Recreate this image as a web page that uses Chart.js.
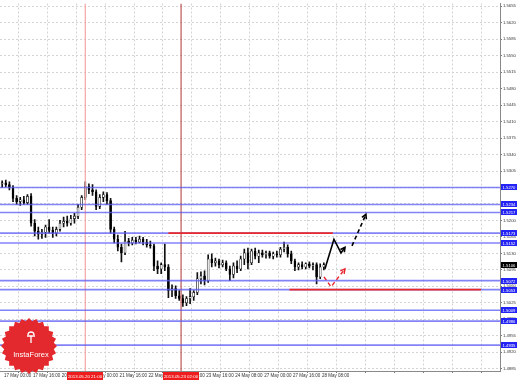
<!DOCTYPE html>
<html>
<head>
<meta charset="utf-8">
<script src="https://cdn.jsdelivr.net/npm/chart.js@4.4.0/dist/chart.umd.min.js"></script>
<style>
  html, body { margin: 0; padding: 0; background: #fff; }
</style>
</head>
<body>
<canvas id="chart" width="519" height="380"></canvas>
<script>
// 2-hour candles, 17 May - 28 May 2013
const open = [1.5308,1.5278,1.5280,1.5276,1.5270,1.5247,1.5240,1.5244,1.5238,1.5251,
  1.5194,1.5177,1.5171,1.5175,1.5186,1.5179,1.5173,1.5181,1.5194,1.5198,
  1.5194,1.5204,1.5209,1.5228,1.5249,1.5272,1.5265,1.5261,1.5230,1.5249,
  1.5255,1.5242,1.5181,1.5160,1.5143,1.5131,1.5156,1.5152,1.5158,1.5154,
  1.5160,1.5154,1.5148,1.5146,1.5103,1.5097,1.5106,1.5101,1.5051,1.5055,
  1.5040,1.5034,1.5025,1.5034,1.5038,1.5047,1.5076,1.5082,1.5072,1.5118,
  1.5110,1.5114,1.5106,1.5110,1.5097,1.5085,1.5103,1.5097,1.5118,1.5131,
  1.5110,1.5135,1.5124,1.5131,1.5127,1.5131,1.5124,1.5129,1.5127,1.5139,
  1.5143,1.5129,1.5114,1.5101,1.5106,1.5101,1.5108,1.5103,1.5106,1.5080,
  1.5101];
const high = [1.5312,1.5284,1.5286,1.5282,1.5274,1.5253,1.5249,1.5251,1.5255,1.5257,
  1.5202,1.5186,1.5181,1.5190,1.5202,1.5186,1.5186,1.5200,1.5207,1.5209,
  1.5211,1.5215,1.5234,1.5253,1.5282,1.5278,1.5276,1.5265,1.5255,1.5261,
  1.5259,1.5247,1.5186,1.5169,1.5150,1.5177,1.5162,1.5164,1.5164,1.5167,
  1.5164,1.5160,1.5156,1.5150,1.5114,1.5110,1.5150,1.5106,1.5063,1.5061,
  1.5051,1.5042,1.5038,1.5055,1.5051,1.5089,1.5091,1.5093,1.5127,1.5129,
  1.5120,1.5118,1.5116,1.5114,1.5103,1.5110,1.5114,1.5124,1.5139,1.5141,
  1.5139,1.5141,1.5137,1.5137,1.5135,1.5135,1.5133,1.5135,1.5143,1.5154,
  1.5148,1.5135,1.5118,1.5110,1.5112,1.5110,1.5112,1.5110,1.5110,1.5108,
  1.5110];
const low = [1.5270,1.5270,1.5272,1.5265,1.5240,1.5234,1.5232,1.5234,1.5234,1.5188,
  1.5167,1.5160,1.5162,1.5164,1.5173,1.5164,1.5167,1.5177,1.5186,1.5188,
  1.5190,1.5194,1.5204,1.5223,1.5244,1.5257,1.5253,1.5223,1.5225,1.5240,
  1.5234,1.5173,1.5152,1.5135,1.5112,1.5127,1.5146,1.5148,1.5150,1.5152,
  1.5148,1.5143,1.5141,1.5093,1.5087,1.5087,1.5093,1.5036,1.5038,1.5034,
  1.5030,1.5017,1.5019,1.5023,1.5030,1.5042,1.5065,1.5063,1.5068,1.5101,
  1.5103,1.5099,1.5101,1.5093,1.5072,1.5078,1.5089,1.5093,1.5106,1.5097,
  1.5106,1.5118,1.5110,1.5122,1.5120,1.5120,1.5118,1.5122,1.5122,1.5133,
  1.5122,1.5108,1.5093,1.5095,1.5097,1.5097,1.5099,1.5095,1.5065,1.5076,
  1.5095];
const close = [1.5278,1.5280,1.5276,1.5270,1.5247,1.5240,1.5244,1.5238,1.5251,1.5194,
  1.5177,1.5171,1.5175,1.5186,1.5179,1.5173,1.5181,1.5194,1.5198,1.5194,
  1.5204,1.5209,1.5228,1.5249,1.5272,1.5265,1.5261,1.5230,1.5249,1.5255,
  1.5242,1.5181,1.5160,1.5143,1.5131,1.5156,1.5152,1.5158,1.5154,1.5160,
  1.5154,1.5148,1.5146,1.5103,1.5097,1.5106,1.5101,1.5051,1.5055,1.5040,
  1.5034,1.5025,1.5034,1.5038,1.5047,1.5076,1.5082,1.5072,1.5118,1.5110,
  1.5114,1.5106,1.5110,1.5097,1.5085,1.5103,1.5097,1.5118,1.5131,1.5110,
  1.5135,1.5124,1.5131,1.5127,1.5131,1.5124,1.5129,1.5127,1.5139,1.5143,
  1.5129,1.5114,1.5101,1.5106,1.5101,1.5108,1.5103,1.5106,1.5080,1.5101,
  1.5106];

// axis ticks (x in hourly bars from 17 May 00:00)
const xTickBars = [0,16,32,48,64,80,96,112,128,144,160,176,192,208,224,240,256,272];
const xTickLabels = ['17 May 00:00','17 May 16:00','20 May 08:00','21 May 00:00','21 May 16:00',
  '22 May 08:00','23 May 00:00','23 May 16:00','24 May 08:00','27 May 00:00','27 May 16:00','28 May 08:00'];
const yTicks = [1.4885,1.4920,1.4955,1.4990,1.5025,1.5060,1.5095,1.5130,1.5165,1.5200,1.5235,1.5270,
  1.5305,1.5340,1.5375,1.5410,1.5445,1.5480,1.5515,1.5550,1.5585,1.5620,1.5655];

// horizontal levels
const blueLevels = [1.5270,1.5234,1.5217,1.5173,1.5152,1.5072,1.5053,1.5009,1.4986,1.4935];
const redLevels = [1.5173, 1.5053];
const redFrom = [91, 158];
const redTo = [182, 264];

// vertical markers
const markerBars = [45, 98];
const markerLabels = ['2013.05.20 21:00', '2013.05.23 02:00'];

// forecast arrows
const mainX = [177.6, 182.6, 186.5, 188.7];
const mainY = [1.5097, 1.5160, 1.5131, 1.5143];
const nextX = [192.6, 200.3];
const nextY = [1.5146, 1.5213];
const altX = [177.1, 181.0, 188.7];
const altY = [1.5080, 1.5059, 1.5097];

const X_MIN = -2.2, X_MAX = 274.5, Y_MIN = 1.4880, Y_MAX = 1.5661;
const FONT = '"Liberation Sans", Arial, sans-serif';

const candleX = open.map((v, i) => i * 2 - 3);
const pts = (xs, ys) => xs.map((x, i) => ({x: x, y: ys[i]}));

function lineSet(data, color, width, dash, extra) {
  return Object.assign({
    type: 'line', data: data, borderColor: color, borderWidth: width,
    borderDash: dash || [], pointRadius: 0, fill: false, tension: 0
  }, extra || {});
}

const datasets = [];
datasets.push(lineSet(pts(mainX, mainY), '#000', 1.6, [], {arrow: true}));
datasets.push(lineSet(pts(nextX, nextY), '#000', 1.6, [4, 3], {arrow: true}));
datasets.push(lineSet(pts(altX, altY), '#e8202a', 1.4, [4, 3], {arrow: true}));
redLevels.forEach((v, i) => {
  datasets.push(lineSet([{x: redFrom[i], y: v}, {x: redTo[i], y: v}], '#ea2a2a', 1.6));
});
blueLevels.forEach(v => {
  datasets.push(lineSet([{x: X_MIN, y: v}, {x: X_MAX, y: v}], 'rgba(90,90,245,0.75)', 1.6));
});
datasets.push(lineSet([{x: markerBars[0], y: Y_MIN}, {x: markerBars[0], y: Y_MAX}], '#f4a6a6', 1.2));
datasets.push(lineSet([{x: markerBars[1], y: Y_MIN}, {x: markerBars[1], y: Y_MAX}], '#b03434', 1));
// candle bodies then wicks
datasets.push({
  type: 'bar', grouped: false, barThickness: 2, minBarLength: 1,
  data: candleX.map((x, i) => ({x: x, y: [open[i], close[i]]})),
  backgroundColor: close.map((c, i) => c > open[i] ? '#ffffff' : '#000000'),
  borderColor: '#000', borderWidth: 0.6, borderSkipped: false
});
datasets.push({
  type: 'bar', grouped: false, barThickness: 1,
  data: candleX.map((x, i) => ({x: x, y: [low[i], high[i]]})),
  backgroundColor: '#111'
});

function tag(ctx, x, y, w, h, bg, text) {
  ctx.fillStyle = bg;
  ctx.fillRect(x, y, w, h);
  ctx.fillStyle = '#fff';
  ctx.fillText(text, x + w / 2, y + h / 2 + 0.5);
}

function drawSeal(ctx) {
  const cx = 29, cy = 346, ro = 28, ri = 25, n = 24;
  ctx.beginPath();
  for (let k = 0; k < n * 2; k++) {
    const r = k % 2 ? ri : ro;
    const a = Math.PI * k / n;
    ctx.lineTo(cx + r * Math.cos(a), cy + r * Math.sin(a));
  }
  ctx.closePath();
  ctx.fillStyle = '#e3292d';
  ctx.fill();
  // little emblem
  ctx.strokeStyle = '#fff';
  ctx.fillStyle = '#fff';
  ctx.lineWidth = 1.3;
  ctx.beginPath();
  ctx.arc(cx + 2, cy - 11, 3, Math.PI, 0);
  ctx.stroke();
  ctx.beginPath();
  ctx.moveTo(cx - 2, cy - 10); ctx.lineTo(cx + 6, cy - 10);
  ctx.moveTo(cx + 2, cy - 10); ctx.lineTo(cx + 2, cy - 3);
  ctx.stroke();
  ctx.font = '7.5px ' + FONT;
  ctx.textAlign = 'center';
  ctx.textBaseline = 'middle';
  ctx.fillText('InstaForex', cx + 2, cy + 9);
}

const overlay = {
  id: 'overlay',
  afterDatasetsDraw(chart) {
    const ctx = chart.ctx;
    chart.data.datasets.forEach((ds, i) => {
      if (!ds.arrow) return;
      const el = chart.getDatasetMeta(i).data;
      const p = el[el.length - 1], q = el[el.length - 2];
      const ang = Math.atan2(p.y - q.y, p.x - q.x);
      ctx.save();
      ctx.strokeStyle = ds.borderColor;
      ctx.lineWidth = ds.borderWidth;
      ctx.beginPath();
      ctx.moveTo(p.x - 5 * Math.cos(ang - 0.5), p.y - 5 * Math.sin(ang - 0.5));
      ctx.lineTo(p.x, p.y);
      ctx.lineTo(p.x - 5 * Math.cos(ang + 0.5), p.y - 5 * Math.sin(ang + 0.5));
      ctx.stroke();
      ctx.restore();
    });
  },
  afterDraw(chart) {
    const {ctx, chartArea: a, scales: {x, y}} = chart;
    ctx.save();
    ctx.font = '4.2px ' + FONT;
    ctx.textAlign = 'center';
    ctx.textBaseline = 'middle';
    blueLevels.forEach(v => {
      tag(ctx, a.right + 1, Math.round(y.getPixelForValue(v)) - 3, 16, 6, '#2323f5', v.toFixed(4));
    });
    const last = close[close.length - 1];
    tag(ctx, a.right + 1, Math.round(y.getPixelForValue(last)) - 3, 16, 6, '#000', last.toFixed(4));
    ctx.font = '4.4px ' + FONT;
    markerBars.forEach((b, i) => {
      const px = Math.round(x.getPixelForValue(b));
      tag(ctx, px - 18, a.bottom + 1, 36, 8, '#ee1c1c', markerLabels[i]);
    });
    drawSeal(ctx);
    ctx.restore();
  }
};

new Chart(document.getElementById('chart'), {
  type: 'bar',
  data: {datasets: datasets},
  options: {
    responsive: false,
    animation: false,
    layout: {padding: 0},
    plugins: {legend: {display: false}, tooltip: {enabled: false}},
    scales: {
      x: {
        type: 'linear', min: X_MIN, max: X_MAX, offset: false,
        afterBuildTicks: s => { s.ticks = xTickBars.map(v => ({value: v})); },
        afterFit: s => { s.height = 9; },
        grid: {color: '#d4d4d4', tickLength: 2, tickColor: '#777'},
        border: {color: '#888', width: 1, dash: [2, 2]},
        ticks: {
          autoSkip: false, maxRotation: 0, align: 'start', padding: 0,
          color: '#333', font: {family: FONT, size: 4.5},
          callback: (v, i) => xTickLabels[i] || ''
        }
      },
      y: {
        type: 'linear', position: 'right', min: Y_MIN, max: Y_MAX,
        afterBuildTicks: s => { s.ticks = yTicks.map(v => ({value: v})); },
        afterFit: s => { s.width = 19; },
        grid: {color: '#d4d4d4', tickLength: 2, tickColor: '#777'},
        border: {color: '#888', width: 1, dash: [2, 2]},
        ticks: {
          padding: 1, color: '#333', font: {family: FONT, size: 4.2},
          callback: v => v.toFixed(4)
        }
      }
    }
  },
  plugins: [overlay]
});
</script>
</body>
</html>
